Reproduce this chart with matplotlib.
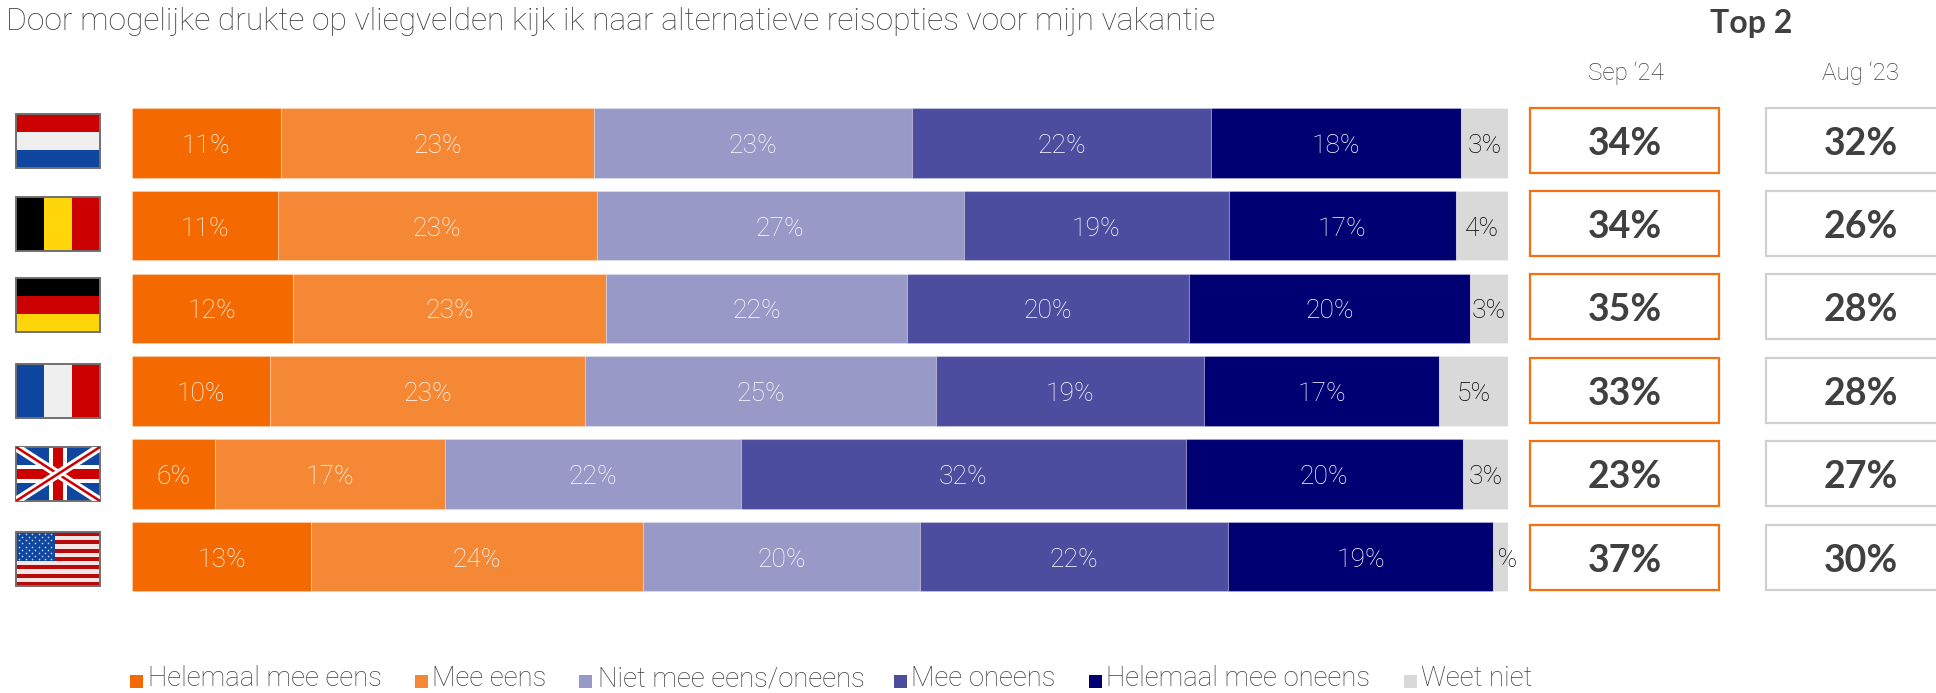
import matplotlib
matplotlib.use('Agg')
import matplotlib.pyplot as plt
from matplotlib.patches import Rectangle

plt.rcParams['font.family'] = ['Lato', 'DejaVu Sans']
LIGHT = ['Roboto', 'DejaVu Sans']

W, H = 1936, 693

title = 'Door mogelijke drukte op vliegvelden kijk ik naar alternatieve reisopties voor mijn vakantie'
categories = ['Helemaal mee eens', 'Mee eens', 'Niet mee eens/oneens', 'Mee oneens', 'Helemaal mee oneens', 'Weet niet']
colors = ['#F46A00', '#F58835', '#9999C8', '#4D4D9F', '#000073', '#D9D9D9']
label_colors = ['white', 'white', 'white', 'white', 'white', 'black']

countries = ['NL', 'BE', 'DE', 'FR', 'UK', 'US']
helemaal_eens = [10.8, 10.6, 11.7, 10.05, 6.0, 13.0]
mee_eens = [22.8, 23.2, 22.8, 22.89, 16.7, 24.1]
niet_eens = [23.1, 26.7, 21.9, 25.49, 21.5, 20.1]
mee_oneens = [21.7, 19.3, 20.5, 19.49, 32.3, 22.4]
helemaal_oneens = [18.2, 16.51, 20.4, 17.07, 20.1, 19.2]
weet_niet = [3.4, 3.8, 2.8, 5.01, 3.3, 1.1]
series = [helemaal_eens, mee_eens, niet_eens, mee_oneens, helemaal_oneens, weet_niet]

top2_sep24 = [34, 34, 35, 33, 23, 37]
top2_aug23 = [32, 26, 28, 28, 27, 30]


def draw_flag(ax, code, x, y, w, h):
    clip = Rectangle((x, y), w, h, transform=ax.transData)

    def rect(x0, y0, rw, rh, c):
        ax.add_patch(Rectangle((x0, y0), rw, rh, fc=c, ec='none'))

    red, blue, white = '#CC0000', '#0F47A0', '#EFEFEF'
    if code == 'NL':
        for i, c in enumerate([red, white, blue]):
            rect(x, y + i * h / 3, w, h / 3, c)
    elif code == 'DE':
        for i, c in enumerate(['black', red, '#FFD60A']):
            rect(x, y + i * h / 3, w, h / 3, c)
    elif code == 'BE':
        for i, c in enumerate(['black', '#FFD60A', red]):
            rect(x + i * w / 3, y, w / 3, h, c)
    elif code == 'FR':
        for i, c in enumerate([blue, white, red]):
            rect(x + i * w / 3, y, w / 3, h, c)
    elif code == 'UK':
        rect(x, y, w, h, blue)
        for a, b in [((x, y), (x + w, y + h)), ((x, y + h), (x + w, y))]:
            l1, = ax.plot([a[0], b[0]], [a[1], b[1]], color='white', lw=6, solid_capstyle='butt')
            l2, = ax.plot([a[0], b[0]], [a[1], b[1]], color=red, lw=1.8, solid_capstyle='butt')
            l1.set_clip_path(clip)
            l2.set_clip_path(clip)
        rect(x + w / 2 - 9, y, 18, h, 'white')
        rect(x, y + h / 2 - 9, w, 18, 'white')
        rect(x + w / 2 - 5, y, 10, h, red)
        rect(x, y + h / 2 - 5, w, 10, red)
    elif code == 'US':
        for i in range(13):
            rect(x, y + i * h / 13, w, h / 13, '#B80A0A' if i % 2 == 0 else '#F4E4E4')
        rect(x, y, w * 0.46, h * 7 / 13, blue)
        for r in range(9):
            n = 6 if r % 2 == 0 else 5
            for c in range(n):
                off = 0.5 if r % 2 == 0 else 1
                ax.plot(x + (c + off) * w * 0.46 / 6, y + (r + 0.7) * h * 7 / 13 / 9.4, 'o',
                        ms=1.2, color='#C8D4EC', mec='none')
    ax.add_patch(Rectangle((x, y), w, h, fc='none', ec='#707070', lw=1.4))


fig = plt.figure(figsize=(W / 100, H / 100), dpi=100)

# Bars
ax = fig.add_axes([132 / W, 1 - 598 / H, 1376 / W, 496.5 / H])
ax.set_xlim(0, 100)
ax.set_ylim(5.5, -0.5)
ax.axis('off')
for row in range(len(countries)):
    left = 0
    total = sum(s[row] for s in series)
    for i, s in enumerate(series):
        val = s[row] / total * 100
        ax.barh(row, val, left=left, height=0.84, color=colors[i], edgecolor='#FFFFFF40', linewidth=0.8)
        ax.text(left + val / 2, row + 0.035, f'{round(s[row])}%', ha='center', va='center',
                color=label_colors[i], fontsize=19, family=LIGHT, fontweight='light', clip_on=False)
        left += val

# Everything outside the bars, in pixel coordinates
px = fig.add_axes([0, 0, 1, 1], facecolor='none')
px.set_xlim(0, W)
px.set_ylim(H, 0)
px.axis('off')

px.text(6, 22, title, fontsize=22.9, family=LIGHT, fontweight='light', color='#404040', ha='left', va='center')
px.text(1751, 24, 'Top 2', fontsize=23, fontweight='bold', color='#404040', ha='center', va='center')
px.text(1626, 73, 'Sep ‘24', fontsize=17.5, family=LIGHT, fontweight='light', color='#404040', ha='center', va='center')
px.text(1861, 73, 'Aug ‘23', fontsize=17.5, family=LIGHT, fontweight='light', color='#404040', ha='center', va='center')

flag_tops = [114, 197, 278, 364, 447, 532]
for code, top in zip(countries, flag_tops):
    draw_flag(px, code, 16, top, 84, 54)

box_tops = [108, 191, 274, 358, 441, 525]
for top, sep, aug in zip(box_tops, top2_sep24, top2_aug23):
    px.add_patch(Rectangle((1530, top), 189, 65, fc='white', ec='#F47010', lw=1.6))
    px.add_patch(Rectangle((1766, top), 189, 65, fc='white', ec='#D0D0D0', lw=1.6))
    px.text(1625, top + 36, f'{sep}%', fontsize=27, fontweight='bold', color='#404040', ha='center', va='center')
    px.text(1861, top + 36, f'{aug}%', fontsize=27, fontweight='bold', color='#404040', ha='center', va='center')

swatch_x = [130, 415, 579, 894, 1089, 1404]
text_x = [148, 432, 598, 911, 1106, 1421]
for name, c, sx, tx in zip(categories, colors, swatch_x, text_x):
    px.add_patch(Rectangle((sx, 675), 13, 13, fc=c, ec='none'))
    px.text(tx, 679, name, fontsize=19.8, family=LIGHT, fontweight='light', color='#404040', ha='left', va='center')

fig.savefig('out.png', dpi=100)
